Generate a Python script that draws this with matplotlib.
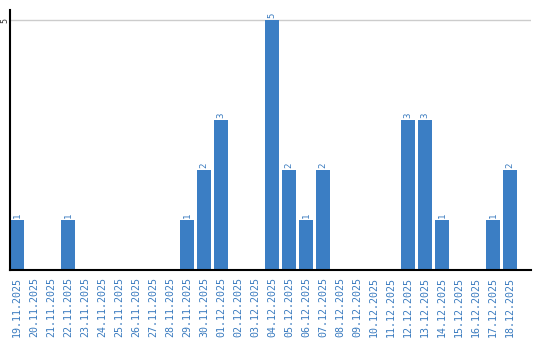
import matplotlib
matplotlib.use("Agg")
import matplotlib.pyplot as plt
import numpy as np

dates = ["19.11.2025", "20.11.2025", "21.11.2025", "22.11.2025", "23.11.2025",
         "24.11.2025", "25.11.2025", "26.11.2025", "27.11.2025", "28.11.2025",
         "29.11.2025", "30.11.2025", "01.12.2025", "02.12.2025", "03.12.2025",
         "04.12.2025", "05.12.2025", "06.12.2025", "07.12.2025", "08.12.2025",
         "09.12.2025", "10.12.2025", "11.12.2025", "12.12.2025", "13.12.2025",
         "14.12.2025", "15.12.2025", "16.12.2025", "17.12.2025", "18.12.2025"]
counts = [1, 0, 0, 1, 0, 0, 0, 0, 0, 0,
          1, 2, 3, 0, 0, 5, 2, 1, 2, 0,
          0, 0, 0, 3, 3, 1, 0, 0, 1, 2]

bar_color = "#3b7ec4"
text_color = "#3a7bbf"

fig = plt.figure(figsize=(5.4, 3.4), dpi=100)
ax = fig.add_axes([10 / 540, 70 / 340, 521 / 540, 260 / 340])

x = np.arange(len(dates))
width = 14 / 17
ax.bar(x, counts, width=width, align="edge", color=bar_color, zorder=2)

for xi, c in zip(x, counts):
    if c > 0:
        ax.text(xi + width / 2, c + 0.05, str(c), rotation=90, ha="center", va="bottom",
                fontsize=6.5, color=text_color, family="DejaVu Sans Mono")

ax.set_xlim(0, 521 / 17)
ax.set_ylim(0, 5.2)
ax.set_yticks([5])
ax.set_yticklabels(["5"], rotation=90, va="center", ha="center", fontsize=6,
                   family="DejaVu Sans Mono", color="#333333")
ax.axhline(5, color="#cccccc", lw=1, zorder=1)

ax.set_xticks(x + width / 2)
ax.set_xticklabels(dates, rotation=90, fontsize=7.2, family="DejaVu Sans Mono",
                   color=text_color)
ax.tick_params(axis="y", length=0, pad=4)
ax.tick_params(axis="x", length=0, pad=5)

for s in ["top", "right"]:
    ax.spines[s].set_visible(False)
ax.spines["left"].set_linewidth(1.5)
ax.spines["bottom"].set_linewidth(1.5)

fig.savefig("out.png", dpi=100)
